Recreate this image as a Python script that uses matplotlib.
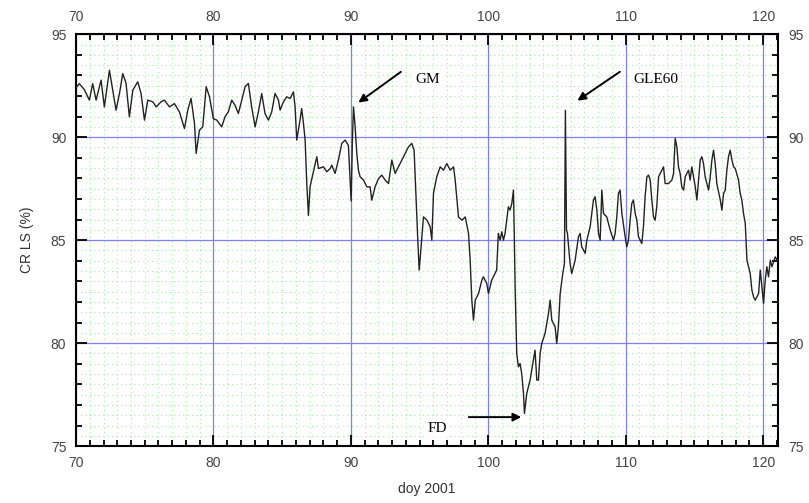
import numpy as np
import matplotlib
matplotlib.use("Agg")
import matplotlib.pyplot as plt
from matplotlib.ticker import MultipleLocator

# Values (day of year 2001, CR LS %).
doy = [
    70.00, 70.24, 70.61, 70.97, 71.21, 71.46, 71.82, 72.06, 72.43, 72.67,
    72.91, 73.16, 73.40, 73.64, 73.88, 74.13, 74.49, 74.73, 74.98, 75.22,
    75.58, 75.83, 76.19, 76.43, 76.80, 77.16, 77.52, 77.89, 78.13, 78.37,
    78.62, 78.74, 78.98, 79.22, 79.47, 79.71, 79.99, 80.24, 80.60, 80.84,
    81.08, 81.33, 81.57, 81.81, 82.06, 82.30, 82.54, 82.78, 83.03, 83.27,
    83.51, 83.75, 84.00, 84.24, 84.48, 84.73, 84.85, 85.09, 85.33, 85.58,
    85.82, 85.94, 86.06, 86.30, 86.42, 86.55, 86.67, 86.79, 86.91, 87.03,
    87.27, 87.52, 87.64, 88.00, 88.25, 88.49, 88.61, 88.85, 89.09, 89.34,
    89.58, 89.82, 90.02, 90.11, 90.19, 90.31, 90.43, 90.55, 90.67, 90.92,
    91.16, 91.40, 91.52, 91.76, 92.01, 92.25, 92.49, 92.74, 92.98, 93.22,
    93.46, 93.71, 93.95, 94.19, 94.43, 94.60, 94.73, 94.87, 94.97, 95.11,
    95.28, 95.53, 95.77, 95.89, 96.01, 96.25, 96.50, 96.74, 96.98, 97.23,
    97.47, 97.59, 97.83, 98.08, 98.32, 98.56, 98.68, 98.80, 98.92, 99.05,
    99.29, 99.53, 99.64, 99.89, 100.01, 100.25, 100.49, 100.61, 100.73, 100.86,
    100.98, 101.10, 101.22, 101.34, 101.46, 101.58, 101.71, 101.83, 101.88, 101.95,
    102.07, 102.19, 102.31, 102.43, 102.56, 102.63, 102.80, 103.04, 103.28, 103.40,
    103.53, 103.65, 103.77, 103.89, 104.13, 104.38, 104.50, 104.62, 104.86, 104.98,
    105.10, 105.23, 105.42, 105.54, 105.61, 105.69, 105.76, 105.95, 106.07, 106.32,
    106.56, 106.68, 106.80, 107.05, 107.17, 107.41, 107.65, 107.77, 107.90, 108.02,
    108.14, 108.26, 108.38, 108.62, 108.87, 109.11, 109.23, 109.35, 109.47, 109.59,
    109.72, 109.96, 110.08, 110.20, 110.32, 110.44, 110.56, 110.69, 110.81, 110.93,
    111.17, 111.29, 111.41, 111.54, 111.66, 111.78, 111.90, 112.02, 112.14, 112.26,
    112.39, 112.51, 112.75, 112.87, 113.11, 113.36, 113.48, 113.60, 113.72, 113.84,
    113.96, 114.08, 114.21, 114.33, 114.57, 114.69, 114.81, 114.93, 115.06, 115.18,
    115.30, 115.42, 115.54, 115.66, 115.78, 116.03, 116.15, 116.27, 116.39, 116.51,
    116.63, 116.88, 117.00, 117.12, 117.24, 117.36, 117.48, 117.60, 117.73, 117.85,
    117.97, 118.21, 118.33, 118.45, 118.57, 118.70, 118.82, 118.94, 119.06, 119.18,
    119.30, 119.42, 119.55, 119.67, 119.79, 119.91, 120.03, 120.15, 120.27, 120.39,
    120.52, 120.64, 120.88, 121.05,
]
cr_ls = [
    92.40, 92.60, 92.30, 91.80, 92.60, 91.80, 92.77, 91.47, 93.25, 92.28,
    91.31, 92.12, 93.09, 92.61, 90.99, 92.28, 92.69, 92.12, 90.83, 91.80,
    91.72, 91.47, 91.72, 91.80, 91.47, 91.63, 91.23, 90.42, 91.31, 91.88,
    90.66, 89.21, 90.34, 90.50, 92.45, 91.96, 90.90, 90.83, 90.50, 90.99,
    91.23, 91.80, 91.55, 91.15, 91.80, 92.45, 92.61, 91.47, 90.50, 91.23,
    92.12, 91.15, 90.83, 91.23, 92.12, 91.80, 91.31, 91.72, 91.96, 91.88,
    92.20, 91.47, 89.86, 90.83, 91.39, 90.66, 89.86, 87.75, 86.20, 87.59,
    88.32, 89.05, 88.48, 88.56, 88.32, 88.48, 88.64, 88.24, 88.89, 89.70,
    89.86, 89.60, 86.90, 89.86, 91.47, 90.50, 89.21, 88.40, 88.08, 87.92,
    87.59, 87.59, 86.94, 87.59, 87.99, 88.16, 87.92, 87.75, 88.89, 88.24,
    88.56, 88.89, 89.21, 89.53, 89.70, 89.37, 87.27, 85.00, 83.55, 84.68,
    86.13, 85.97, 85.65, 85.00, 87.27, 88.08, 88.56, 88.40, 88.72, 88.40,
    88.56, 87.92, 86.13, 85.97, 86.13, 85.33, 84.03, 82.09, 81.12, 82.09,
    82.41, 83.06, 83.22, 82.90, 82.41, 83.06, 83.38, 83.55, 85.33, 85.00,
    85.41, 85.00, 85.33, 85.97, 86.62, 86.46, 86.78, 87.43, 85.65, 82.74,
    79.50, 78.85, 79.01, 78.53, 77.56, 76.59, 77.56, 78.21, 79.18, 79.66,
    78.21, 78.21, 79.50, 79.99, 80.47, 81.44, 82.09, 81.12, 80.80, 79.99,
    80.80, 82.41, 83.38, 83.87, 91.31, 85.49, 85.33, 83.87, 83.38, 84.03,
    85.16, 85.33, 84.68, 84.36, 85.00, 85.65, 86.94, 87.11, 86.46, 85.33,
    85.00, 87.43, 86.30, 86.13, 85.49, 85.00, 85.33, 86.13, 87.27, 87.43,
    86.30, 85.16, 84.68, 85.00, 85.97, 86.78, 86.95, 86.30, 85.97, 85.16,
    84.84, 85.65, 87.11, 88.08, 88.16, 87.92, 86.95, 86.14, 85.97, 86.62,
    88.08, 88.24, 88.56, 87.75, 87.75, 87.92, 88.24, 89.94, 89.53, 88.56,
    88.24, 87.59, 87.43, 88.08, 88.40, 87.92, 88.56, 88.08, 87.59, 86.95,
    87.92, 88.89, 89.05, 88.72, 88.08, 87.43, 88.08, 88.89, 89.37, 88.72,
    87.75, 86.95, 86.46, 87.27, 87.43, 88.40, 89.05, 89.37, 88.89, 88.56,
    88.48, 87.92, 87.27, 86.95, 86.30, 85.81, 84.03, 83.71, 83.38, 82.58,
    82.25, 82.09, 82.25, 82.41, 83.55, 82.74, 81.93, 83.06, 83.71, 83.22,
    84.03, 83.71, 84.19, 84.00,
]

x_major = [70, 80, 90, 100, 110, 120]
y_major = [75, 80, 85, 90, 95]

fig = plt.figure(figsize=(8.09, 5.03), dpi=100)
ax = fig.add_axes([0.094, 0.113, 0.868, 0.819])

ax.set_xlim(70, 121.1)
ax.set_ylim(75, 95)

# faint green dotted minor grid
ax.vlines(np.arange(71, 121.1, 1), 75, 95, colors="#9cf29c", linestyles=(0, (1, 3)), lw=0.8, zorder=0)
ax.hlines(np.arange(75.5, 95, 0.5), 70, 121.1, colors="#9cf29c", linestyles=(0, (1, 3)), lw=0.8, zorder=0)
# blue major grid
ax.vlines(x_major, 75, 95, colors="#8080f5", lw=0.9, zorder=1)
ax.hlines(y_major, 70, 121.1, colors="#8080f5", lw=0.9, zorder=1)

ax.plot(doy, cr_ls, color="#222222", lw=1.0, zorder=3)

ax.xaxis.set_major_locator(MultipleLocator(10))
ax.xaxis.set_minor_locator(MultipleLocator(1))
ax.yaxis.set_major_locator(MultipleLocator(5))
ax.yaxis.set_minor_locator(MultipleLocator(1))
ax.tick_params(which="both", direction="in", top=True, right=True,
               labeltop=True, labelright=True, color="black", width=1.3,
               labelsize=10, labelcolor="#444444")
ax.tick_params(axis="x", which="major", length=8, pad=7)
ax.tick_params(axis="y", which="major", length=8, pad=7)
ax.tick_params(which="minor", length=4)
for lab in ax.get_xticklabels() + ax.get_yticklabels():
    lab.set_family("Liberation Sans")
for s in ax.spines.values():
    s.set_linewidth(1.5)

ax.set_xlabel("doy 2001", fontsize=10, color="#333333", family="Liberation Sans", labelpad=9)
ax.set_ylabel("CR LS (%)", fontsize=10, color="#333333", family="Liberation Sans", labelpad=12)

box = dict(facecolor="white", edgecolor="none", pad=2)
arrow = dict(arrowstyle="-|>", color="black", lw=1.4, mutation_scale=12)
ax.annotate("", xy=(90.38, 91.6), xytext=(93.8, 93.25), arrowprops=arrow, zorder=5)
ax.text(94.67, 92.8, "GM", family="Liberation Serif", fontsize=11, va="center", ha="left", bbox=box, zorder=4)
ax.annotate("", xy=(106.32, 91.7), xytext=(109.74, 93.25), arrowprops=arrow, zorder=5)
ax.text(110.54, 92.8, "GLE60", family="Liberation Serif", fontsize=11, va="center", ha="left", bbox=box, zorder=4)
ax.annotate("", xy=(102.6, 76.41), xytext=(98.38, 76.41), arrowprops=arrow, zorder=5)
ax.text(95.55, 75.87, "FD", family="Liberation Serif", fontsize=11, va="center", ha="left", bbox=box, zorder=4)

fig.savefig("out.png", dpi=100)
